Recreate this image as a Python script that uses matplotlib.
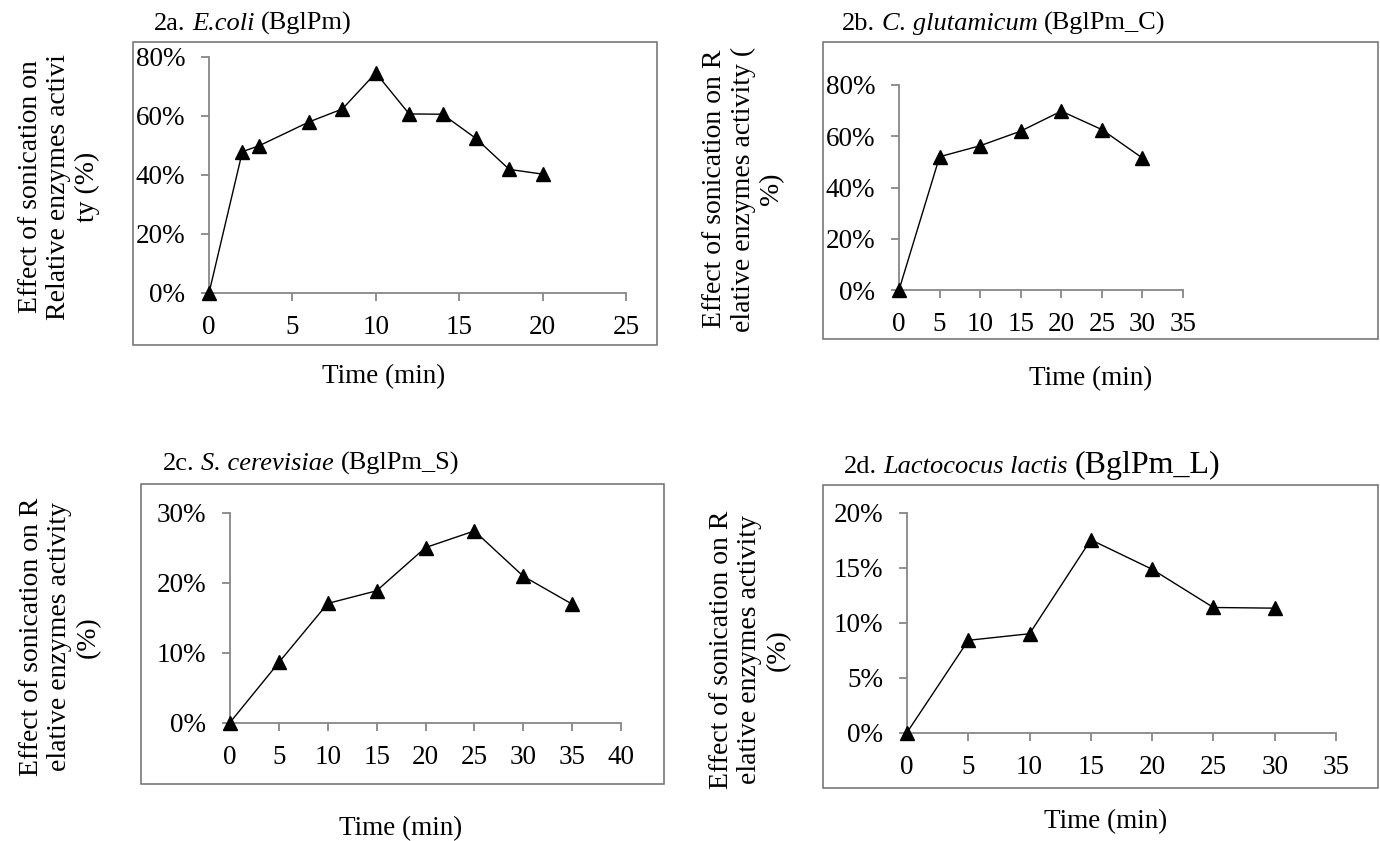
import matplotlib
matplotlib.use("Agg")
import matplotlib.pyplot as plt
from matplotlib.patches import Rectangle
from matplotlib.ticker import PercentFormatter, MultipleLocator

# ---------------- data ----------------
time_a = [0, 2, 3, 6, 8, 10, 12, 14, 16, 18, 20]
act_a = [0, 47.9, 49.9, 58.0, 62.4, 74.6, 60.7, 60.6, 52.4, 41.9, 40.3]

time_b = [0, 5, 10, 15, 20, 25, 30]
act_b = [0, 52.0, 56.3, 62.0, 69.8, 62.6, 51.5]

time_c = [0, 5, 10, 15, 20, 25, 30, 35]
act_c = [0, 8.6, 17.05, 18.86, 25.05, 27.43, 20.95, 16.95]

time_d = [0, 5, 10, 15, 20, 25, 30]
act_d = [0, 8.4, 9.0, 17.56, 14.87, 11.39, 11.33]

titles = [
    [("2a.", "normal", 19), ("E.coli", "italic", 19), ("(BglPm)", "normal", 19)],
    [("2b.", "normal", 19), ("C. glutamicum", "italic", 19), ("(BglPm_C)", "normal", 19)],
    [("2c.", "normal", 19), ("S. cerevisiae", "italic", 19), ("(BglPm_S)", "normal", 19)],
    [("2d.", "normal", 19), ("Lactococus lactis", "italic", 19), ("(BglPm_L)", "normal", 23)],
]
ylabels = [
    "Effect of sonication on\nRelative enzymes activi\nty (%)",
    "Effect of sonication on R\nelative enzymes activity (\n%)",
    "Effect of sonication on R\nelative enzymes activity\n(%)",
    "Effect of sonication on R\nelative enzymes activity\n(%)",
]
xlabel = "Time (min)"
xmaxes = [25, 35, 40, 35]
ymaxes = [80, 80, 30, 20]
ysteps = [20, 20, 10, 5]

# ---------------- layout (pixels) ----------------
W, H = 1380, 841
FONT = "Liberation Serif"
plt.rcParams["font.family"] = [FONT, "DejaVu Serif"]

fig = plt.figure(figsize=(W / 100, H / 100), dpi=100)

boxes = [(133, 42, 657, 345), (823, 42, 1378, 339), (141, 484, 664, 784), (823, 485, 1378, 788)]
axpix = [(209, 626, 293, 57), (899, 1183, 290, 85), (230, 621, 722.5, 513), (907, 1336, 732.5, 513)]
title_pos = [(154, 30), (842, 30), (163, 470), (844, 473)]
ylab_pos = [(59, 187), (743, 189), (60, 637), (750, 650)]
xlab_pos = [(384, 377), (1091, 379), (401, 829), (1106, 822)]

series = [(time_a, act_a), (time_b, act_b), (time_c, act_c), (time_d, act_d)]

GRAY = "#878787"
BOX = "#6e6e6e"

for i in range(4):
    x0, y0, x1, y1 = boxes[i]
    fig.add_artist(Rectangle((x0 / W, 1 - y1 / H), (x1 - x0) / W, (y1 - y0) / H,
                             transform=fig.transFigure, fill=False, edgecolor=BOX, linewidth=1.1))
    ax0, ax1, ay0, ay1 = axpix[i]
    ax = fig.add_axes([ax0 / W, 1 - ay0 / H, (ax1 - ax0) / W, (ay0 - ay1) / H])
    ax.patch.set_alpha(0)
    xs, ys = series[i]
    ax.plot(xs, ys, color="black", linewidth=1.0, marker="^", markersize=9.5,
            markerfacecolor="black", markeredgecolor="black", clip_on=False, zorder=5)
    ax.set_xlim(0, xmaxes[i])
    ax.set_ylim(0, ymaxes[i])
    ax.xaxis.set_major_locator(MultipleLocator(5))
    ax.yaxis.set_major_locator(MultipleLocator(ysteps[i]))
    ax.yaxis.set_major_formatter(PercentFormatter(decimals=0))
    for s in ["top", "right"]:
        ax.spines[s].set_visible(False)
    for s in ["left", "bottom"]:
        ax.spines[s].set_color(GRAY)
        ax.spines[s].set_linewidth(1.3)
    ax.tick_params(axis="both", direction="out", length=6, width=1.3, color=GRAY,
                   labelsize=19.5, labelcolor="black")
    ax.tick_params(axis="y", pad=11)
    ax.tick_params(axis="x", pad=10)
    for lab in ax.get_xticklabels() + ax.get_yticklabels():
        lab.set_fontfamily(FONT)

    # y label
    yx, yy = ylab_pos[i]
    fig.text(yx / W, 1 - yy / H, ylabels[i], rotation=90, ha="center", va="center",
             multialignment="center", fontsize=20, fontfamily=FONT, linespacing=1.2)
    # x label
    lx, ly = xlab_pos[i]
    fig.text(lx / W, 1 - ly / H, xlabel, ha="center", va="center", fontsize=19.5, fontfamily=FONT)

# titles with mixed styles
renderer = fig.canvas.get_renderer()
for i in range(4):
    cx, by = title_pos[i]
    for txt, style, size in titles[i]:
        t = fig.text(cx / W, 1 - by / H, txt, ha="left", va="baseline", fontsize=size,
                     fontstyle=style, fontfamily=FONT)
        bb = t.get_window_extent(renderer=renderer)
        cx += bb.width + 0.25 * size * 100 / 72

fig.savefig("out.png", dpi=100)
